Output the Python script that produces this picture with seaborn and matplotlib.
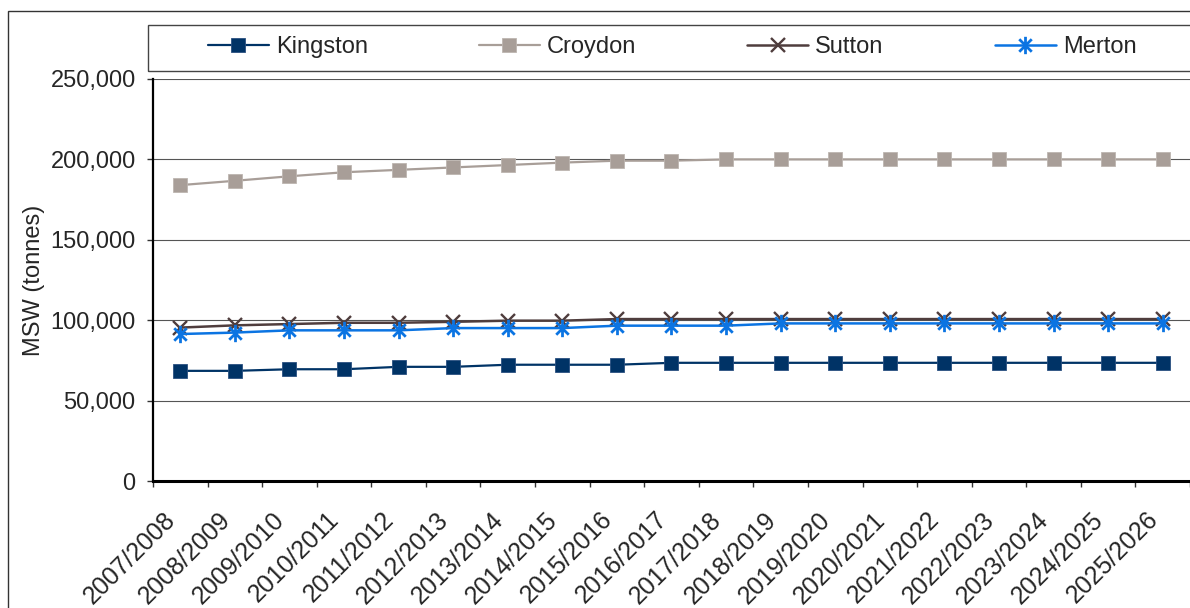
import numpy as np
import pandas as pd
import matplotlib
matplotlib.use("Agg")
import matplotlib.pyplot as plt
import seaborn as sns
from matplotlib.path import Path
from matplotlib.patches import Rectangle
from matplotlib.ticker import FuncFormatter, FixedLocator

years = ["2007/2008", "2008/2009", "2009/2010", "2010/2011", "2011/2012", "2012/2013",
         "2013/2014", "2014/2015", "2015/2016", "2016/2017", "2017/2018", "2018/2019",
         "2019/2020", "2020/2021", "2021/2022", "2022/2023", "2023/2024", "2024/2025",
         "2025/2026"]

kingston = [68500, 68500, 69500, 69500, 71000, 71000, 72300, 72300, 72300, 73500,
            73500, 73500, 73500, 73500, 73500, 73500, 73500, 73500, 73500]
croydon = [184000, 186700, 189500, 192000, 193500, 195000, 196500, 198000, 199200, 199200,
           200000, 200000, 200000, 200000, 200000, 200000, 200000, 200000, 200000]
sutton = [95400, 96800, 97600, 98400, 98400, 99000, 99700, 99700, 100700, 100700,
          100700, 100700, 100700, 100700, 100700, 100700, 100700, 100700, 100700]
merton = [91400, 92300, 93700, 93700, 93700, 95100, 95100, 95100, 96600, 96600,
          96600, 98000, 98000, 98000, 98000, 98000, 98000, 98000, 98000]

series_names = ["Kingston", "Croydon", "Sutton", "Merton"]
y_ticks = [0, 50000, 100000, 150000, 200000, 250000]

sns.set_theme(style="white")
plt.rcParams["font.family"] = ["Liberation Sans", "DejaVu Sans"]

W, H = 1190, 608
fig = plt.figure(figsize=(W / 100, H / 100), dpi=100)
ax = fig.add_axes([153 / W, 1 - 481 / H, 1 - 153 / W, (481 - 79) / H])

star = Path([(0, -1), (0, 1), (-0.72, -0.72), (0.72, 0.72), (-0.72, 0.72), (0.72, -0.72)],
            [Path.MOVETO, Path.LINETO, Path.MOVETO, Path.LINETO, Path.MOVETO, Path.LINETO])

styles = {
    "Kingston": dict(color="#003366", marker="s", markersize=10, markeredgecolor="#2A5080",
                     markeredgewidth=0.6, linewidth=1.6),
    "Croydon": dict(color="#A89E98", marker="s", markersize=10, markeredgecolor="#BDB5B0",
                    markeredgewidth=0.6, linewidth=1.6),
    "Sutton": dict(color="#4F3D3D", marker="x", markersize=10.5, markeredgecolor="#4F3D3D",
                   markeredgewidth=1.7, linewidth=1.8),
    "Merton": dict(color="#0B74E2", marker=star, markersize=12.5, markeredgecolor="#0B74E2",
                   markeredgewidth=2.0, linewidth=1.8),
}
values = {"Kingston": kingston, "Croydon": croydon, "Sutton": sutton, "Merton": merton}

for name in series_names:
    df = pd.DataFrame({"year": years, "msw": values[name]})
    sns.lineplot(data=df, x="year", y="msw", ax=ax, label=name, sort=False, **styles[name])

ax.set_ylim(0, 250000)
ax.set_xlim(-0.5, -0.5 + (W - 153) / 55)
ax.yaxis.set_major_locator(FixedLocator(y_ticks))
ax.yaxis.set_major_formatter(FuncFormatter(lambda v, p: f"{int(v):,}"))
ax.grid(axis="y", color="#555555", linewidth=0.8)
ax.grid(axis="x", visible=False)
ax.set_axisbelow(True)

ax.set_xticks(range(len(years)))
ax.set_xticklabels(years, rotation=45, ha="right", va="top", fontsize=18)
ax.set_xticks(np.arange(-0.5, len(years), 1.0), minor=True)
ax.tick_params(axis="x", which="major", length=0, pad=19)
ax.tick_params(axis="x", which="minor", length=4.5, width=1, color="#333333", direction="out", bottom=True)
ax.tick_params(axis="y", which="major", length=4.5, width=1, color="#333333", direction="out",
               left=True, labelsize=17, pad=8)
ax.set_xlabel("")
ax.set_ylabel("MSW (tonnes)", fontsize=17, labelpad=4)

for s in ["top", "right"]:
    ax.spines[s].set_visible(False)
ax.spines["left"].set_color("black")
ax.spines["left"].set_linewidth(1.6)
ax.spines["bottom"].set_color("black")
ax.spines["bottom"].set_linewidth(2.2)

handles, labels = ax.get_legend_handles_labels()
if ax.legend_ is not None:
    ax.legend_.remove()
leg = fig.legend(handles, labels, loc="center left", bbox_to_anchor=(208 / W, 1 - 47 / H),
                 ncol=4, frameon=False, fontsize=17, borderpad=0, borderaxespad=0,
                 handlelength=2.58, handletextpad=0.3, columnspacing=4.7)

# legend box and outer chart frame (pixel coordinates, figure space)
fig.patches.append(Rectangle((148 / W, 1 - 71 / H), (W + 20 - 148) / W, (71 - 25) / H,
                             transform=fig.transFigure, fill=False, edgecolor="#444444",
                             linewidth=1.0, clip_on=False))
fig.patches.append(Rectangle((8 / W, -0.05), (W + 20 - 8) / W, 1.05 - 11 / H,
                             transform=fig.transFigure, fill=False, edgecolor="#333333",
                             linewidth=1.0, clip_on=False))

fig.savefig("out.png", dpi=100)
